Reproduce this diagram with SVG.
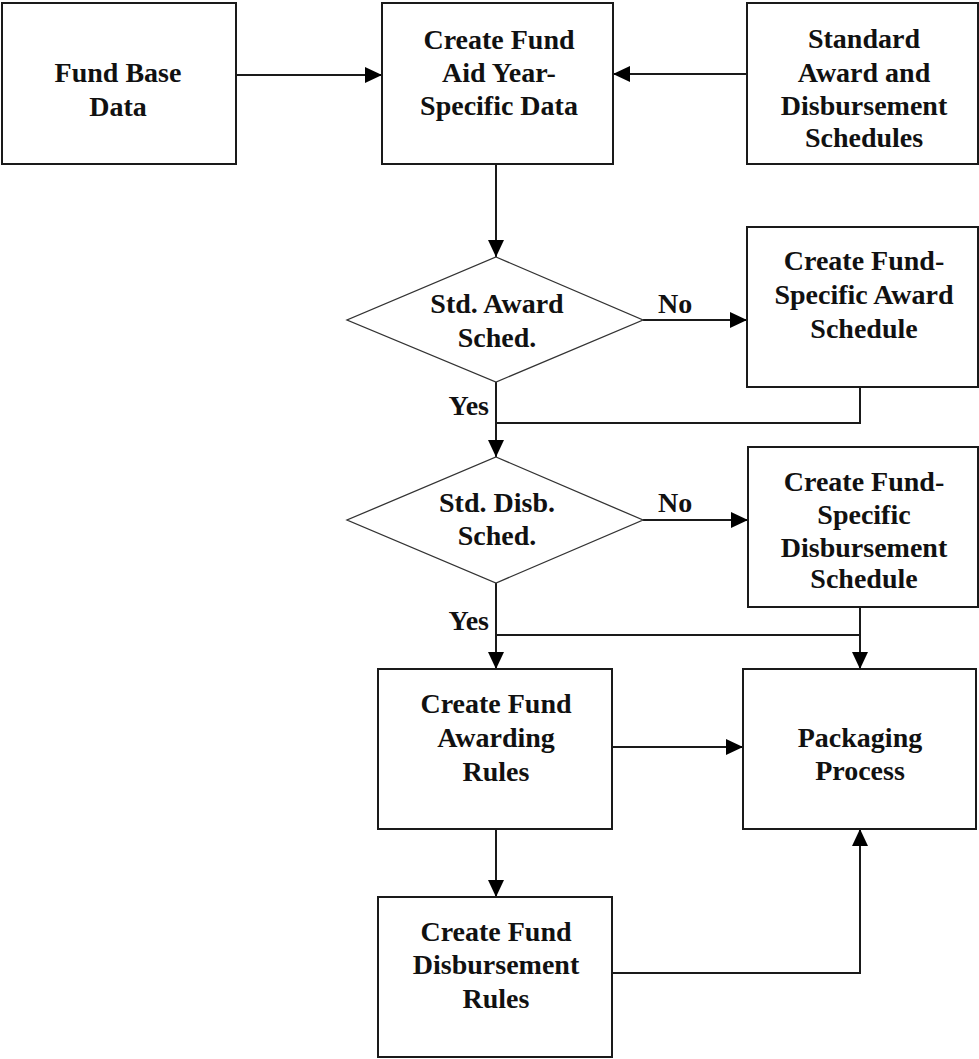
<svg xmlns="http://www.w3.org/2000/svg" width="979" height="1059" viewBox="0 0 979 1059">
  <style>
    .box { fill: #fff; stroke: #1a1a1a; stroke-width: 2; }
    .dec { fill: #fff; stroke: #333; stroke-width: 1.3; }
    .lbl { font-family: "Liberation Serif", "Times New Roman", serif; font-size: 28px; font-weight: bold; fill: #111; text-anchor: middle; }
    .tag { font-family: "Liberation Serif", "Times New Roman", serif; font-size: 28px; font-weight: bold; fill: #111; }
    .wire { fill: none; stroke: #1a1a1a; stroke-width: 2; }
  </style>
  <defs>
    <marker id="arrow" markerUnits="userSpaceOnUse" markerWidth="18" markerHeight="18" refX="17" refY="8" orient="auto">
      <path d="M0,0 L17,8 L0,16 z" fill="#000"/>
    </marker>
  </defs>
  <rect width="979" height="1059" fill="#fff"/>

  <g id="connectors">
    <line class="wire" x1="236" y1="75" x2="382" y2="75" marker-end="url(#arrow)"/>
    <line class="wire" x1="747" y1="74" x2="613" y2="74" marker-end="url(#arrow)"/>
    <line class="wire" x1="496" y1="164" x2="496" y2="257" marker-end="url(#arrow)"/>
    <line class="wire" x1="643" y1="320" x2="747" y2="320" marker-end="url(#arrow)"/>
    <polyline class="wire" points="860,387 860,423 496,423"/>
    <line class="wire" x1="496" y1="382" x2="496" y2="457" marker-end="url(#arrow)"/>
    <line class="wire" x1="643" y1="520" x2="748" y2="520" marker-end="url(#arrow)"/>
    <line class="wire" x1="496" y1="635" x2="860" y2="635"/>
    <line class="wire" x1="860" y1="607" x2="860" y2="669" marker-end="url(#arrow)"/>
    <line class="wire" x1="496" y1="583" x2="496" y2="669" marker-end="url(#arrow)"/>
    <line class="wire" x1="612" y1="747" x2="743" y2="747" marker-end="url(#arrow)"/>
    <line class="wire" x1="496" y1="829" x2="496" y2="897" marker-end="url(#arrow)"/>
    <polyline class="wire" points="612,973 860,973 860,829" marker-end="url(#arrow)"/>
    <text class="tag" x="658" y="313">No</text>
    <text class="tag" x="658" y="512">No</text>
    <text class="tag" x="489" y="415" text-anchor="end">Yes</text>
    <text class="tag" x="489" y="630" text-anchor="end">Yes</text>
  </g>

  <g id="fund-base-data">
    <rect class="box" x="2" y="3" width="234" height="161"/>
    <text class="lbl" x="118" y="82">Fund Base</text>
    <text class="lbl" x="118" y="116">Data</text>
  </g>

  <g id="create-fund-aid-year">
    <rect class="box" x="382" y="3" width="231" height="161"/>
    <text class="lbl" x="499" y="49">Create Fund</text>
    <text class="lbl" x="499" y="82">Aid Year-</text>
    <text class="lbl" x="499" y="115">Specific Data</text>
  </g>

  <g id="standard-schedules">
    <rect class="box" x="747" y="3" width="231" height="161"/>
    <text class="lbl" x="864" y="48">Standard</text>
    <text class="lbl" x="864" y="82">Award and</text>
    <text class="lbl" x="864" y="115">Disbursement</text>
    <text class="lbl" x="864" y="147">Schedules</text>
  </g>

  <g id="std-award-sched">
    <polygon class="dec" points="496,257 643,320 496,382 347,320"/>
    <text class="lbl" x="497" y="313">Std. Award</text>
    <text class="lbl" x="497" y="347">Sched.</text>
  </g>

  <g id="fund-specific-award">
    <rect class="box" x="747" y="227" width="231" height="160"/>
    <text class="lbl" x="864" y="270">Create Fund-</text>
    <text class="lbl" x="864" y="304">Specific Award</text>
    <text class="lbl" x="864" y="338">Schedule</text>
  </g>

  <g id="std-disb-sched">
    <polygon class="dec" points="496,457 643,520 496,583 347,520"/>
    <text class="lbl" x="497" y="512">Std. Disb.</text>
    <text class="lbl" x="497" y="545">Sched.</text>
  </g>

  <g id="fund-specific-disbursement">
    <rect class="box" x="748" y="447" width="230" height="160"/>
    <text class="lbl" x="864" y="491">Create Fund-</text>
    <text class="lbl" x="864" y="524">Specific</text>
    <text class="lbl" x="864" y="557">Disbursement</text>
    <text class="lbl" x="864" y="588">Schedule</text>
  </g>

  <g id="awarding-rules">
    <rect class="box" x="378" y="669" width="234" height="160"/>
    <text class="lbl" x="496" y="713">Create Fund</text>
    <text class="lbl" x="496" y="747">Awarding</text>
    <text class="lbl" x="496" y="781">Rules</text>
  </g>

  <g id="packaging-process">
    <rect class="box" x="743" y="669" width="233" height="160"/>
    <text class="lbl" x="860" y="747">Packaging</text>
    <text class="lbl" x="860" y="780">Process</text>
  </g>

  <g id="disbursement-rules">
    <rect class="box" x="378" y="897" width="234" height="160"/>
    <text class="lbl" x="496" y="941">Create Fund</text>
    <text class="lbl" x="496" y="974">Disbursement</text>
    <text class="lbl" x="496" y="1008">Rules</text>
  </g>
</svg>
